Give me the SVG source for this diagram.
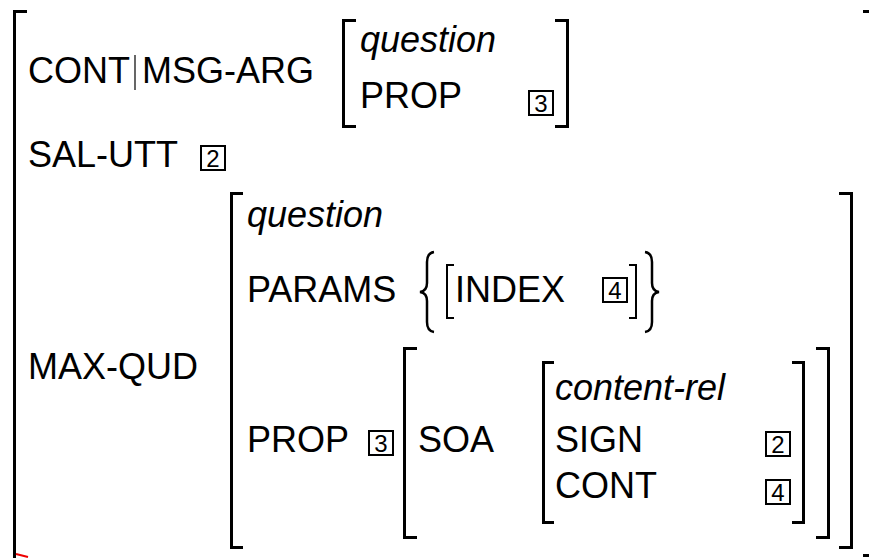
<svg xmlns="http://www.w3.org/2000/svg" width="869" height="558" viewBox="0 0 869 558">
<style>
text{font-family:"Liberation Sans",Arial,sans-serif;font-size:36px;fill:#000}
.it{font-style:italic}
.br{fill:none;stroke:#000;stroke-width:3}
.br2{fill:none;stroke:#000;stroke-width:2}
.brc{fill:none;stroke:#000;stroke-width:2.5}
.tag rect{fill:#fff;stroke:#000;stroke-width:2}
.tag text{font-size:24px;text-anchor:middle}
</style>
<rect width="869" height="558" fill="#fff"/>
<g id="outer">
<path class="br" d="M27 11.5 H14.5 V558"/>
<path class="br" d="M863 11.5 H871"/>
<path class="br" d="M863 555.5 H871"/>
<path d="M16 554 L28 557" stroke="#e00" stroke-width="2"/>
</g>
<g id="row-cont">
<text x="28" y="83">CONT</text>
<line x1="135" y1="55" x2="135" y2="90" stroke="#000" stroke-width="1.2"/>
<text x="142" y="83">MSG-ARG</text>
<g id="avm-question1">
<path class="br" d="M356 20.5 H343.5 V126.5 H356"/>
<path class="br" d="M555 20.5 H567.5 V126.5 H555"/>
<text class="it" x="360" y="52">question</text>
<text x="360" y="108">PROP</text>
<g class="tag"><rect x="529" y="91" width="24" height="24"/><text x="541" y="112">3</text></g>
</g>
</g>
<g id="row-salutt">
<text x="28" y="167">SAL-UTT</text>
<g class="tag"><rect x="201" y="146" width="24" height="24"/><text x="213" y="167">2</text></g>
</g>
<g id="row-maxqud">
<text x="28" y="379">MAX-QUD</text>
<g id="avm-question2">
<path class="br" d="M243 193.5 H231.5 V547.5 H243"/>
<path class="br" d="M839 193.5 H851.5 V547.5 H839"/>
<text class="it" x="247" y="227">question</text>
<text x="247" y="302">PARAMS</text>
<g id="params-set">
<path class="brc" d="M434 252 Q427 253 427 262 V283 Q427 291 420 292 Q427 293 427 301 V322 Q427 331 434 332"/>
<path class="br2" d="M454 265 H447 V318 H454"/>
<text x="455" y="302">INDEX</text>
<g class="tag"><rect x="603" y="278" width="24" height="24"/><text x="615" y="299">4</text></g>
<path class="br2" d="M629 265 H636 V318 H629"/>
<path class="brc" d="M645 252 Q652 253 652 262 V283 Q652 291 659 292 Q652 293 652 301 V322 Q652 331 645 332"/>
</g>
<text x="247" y="452">PROP</text>
<g class="tag"><rect x="369" y="431" width="24" height="24"/><text x="381" y="452">3</text></g>
<g id="avm-prop">
<path class="br" d="M417 348.5 H404.5 V537.5 H417"/>
<path class="br" d="M816 348.5 H828.5 V537.5 H816"/>
<text x="418" y="452">SOA</text>
<g id="avm-content-rel">
<path class="br" d="M554 362.5 H543.5 V522.5 H554"/>
<path class="br" d="M792 362.5 H803.5 V522.5 H792"/>
<text class="it" x="555" y="400">content-rel</text>
<text x="555" y="452">SIGN</text>
<text x="555" y="498">CONT</text>
<g class="tag"><rect x="766" y="432" width="24" height="24"/><text x="778" y="453">2</text></g>
<g class="tag"><rect x="766" y="480" width="24" height="24"/><text x="778" y="501">4</text></g>
</g>
</g>
</g>
</g>
</svg>
